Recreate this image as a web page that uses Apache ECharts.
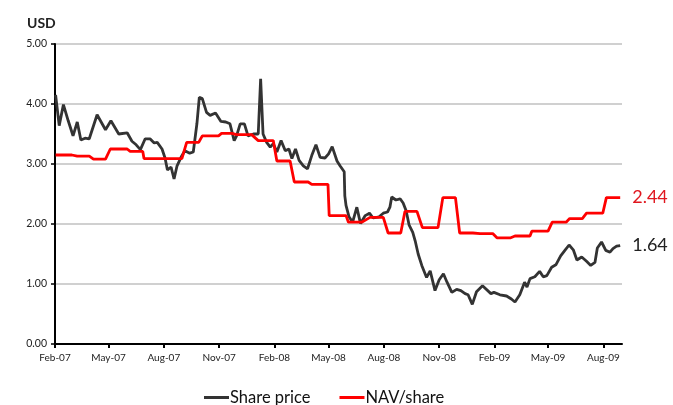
<!DOCTYPE html>
<html lang="en">
<head>
    <meta charset="UTF-8">
    <title>Share price vs NAV/share</title>
    <script src="https://cdn.jsdelivr.net/npm/echarts@6.0.0/dist/echarts.min.js"></script>
    <style>
        body { margin: 0; background: #fff; }
    </style>
</head>
<body>
    <div id="chart" style="width: 673px; height: 405px;"></div>

    <script>
        // Share price (weekly-ish closes)
        var priceDates = [
            '2007-02-02', '2007-02-08', '2007-02-15', '2007-02-23', '2007-03-03', '2007-03-10', '2007-03-16', '2007-03-23',
            '2007-03-30', '2007-04-12', '2007-04-26', '2007-05-05', '2007-05-18', '2007-06-01', '2007-06-09', '2007-06-16',
            '2007-06-23', '2007-07-01', '2007-07-09', '2007-07-16', '2007-07-21', '2007-07-29', '2007-08-03', '2007-08-07',
            '2007-08-13', '2007-08-18', '2007-08-23', '2007-08-30', '2007-09-05', '2007-09-13', '2007-09-19', '2007-09-25',
            '2007-09-29', '2007-10-04', '2007-10-11', '2007-10-17', '2007-10-26', '2007-11-04', '2007-11-12', '2007-11-19',
            '2007-11-26', '2007-11-30', '2007-12-06', '2007-12-13', '2007-12-19', '2007-12-28', '2008-01-05', '2008-01-09',
            '2008-01-13', '2008-01-19', '2008-01-25', '2008-01-30', '2008-02-05', '2008-02-12', '2008-02-19', '2008-02-25',
            '2008-03-01', '2008-03-07', '2008-03-13', '2008-03-20', '2008-03-27', '2008-04-03', '2008-04-10', '2008-04-17',
            '2008-04-25', '2008-05-01', '2008-05-07', '2008-05-15', '2008-05-20', '2008-05-27', '2008-05-28', '2008-05-30',
            '2008-06-04', '2008-06-10', '2008-06-17', '2008-06-23', '2008-07-01', '2008-07-08', '2008-07-14', '2008-07-24',
            '2008-07-31', '2008-08-07', '2008-08-11', '2008-08-14', '2008-08-21', '2008-08-28', '2008-09-02', '2008-09-07',
            '2008-09-12', '2008-09-18', '2008-09-22', '2008-09-27', '2008-10-03', '2008-10-11', '2008-10-17', '2008-10-25',
            '2008-11-01', '2008-11-08', '2008-11-14', '2008-11-22', '2008-11-30', '2008-12-07', '2008-12-14', '2008-12-19',
            '2008-12-26', '2009-01-02', '2009-01-12', '2009-01-26', '2009-01-31', '2009-02-10', '2009-02-21', '2009-03-01',
            '2009-03-07', '2009-03-15', '2009-03-23', '2009-03-27', '2009-04-01', '2009-04-09', '2009-04-17', '2009-04-23',
            '2009-04-29', '2009-05-07', '2009-05-14', '2009-05-22', '2009-05-29', '2009-06-05', '2009-06-12', '2009-06-18',
            '2009-06-26', '2009-07-04', '2009-07-11', '2009-07-18', '2009-07-22', '2009-07-29', '2009-08-05', '2009-08-12',
            '2009-08-17', '2009-08-23', '2009-08-29'
        ];
        var priceValues = [
            4.15, 3.64, 3.99, 3.72, 3.47, 3.70, 3.40, 3.43,
            3.42, 3.82, 3.57, 3.72, 3.50, 3.52, 3.38, 3.32,
            3.24, 3.42, 3.42, 3.35, 3.36, 3.25, 3.10, 2.90,
            2.95, 2.75, 2.97, 3.12, 3.22, 3.18, 3.20, 3.67,
            4.11, 4.09, 3.86, 3.81, 3.85, 3.71, 3.70, 3.67,
            3.39, 3.47, 3.67, 3.67, 3.47, 3.50, 3.50, 4.42,
            3.50, 3.36, 3.28, 3.34, 3.20, 3.39, 3.22, 3.25,
            3.09, 3.25, 3.06, 2.97, 2.92, 3.14, 3.32, 3.11,
            3.10, 3.17, 3.29, 3.05, 2.97, 2.87, 2.47, 2.31,
            2.12, 2.03, 2.28, 2.01, 2.14, 2.18, 2.10, 2.12,
            2.18, 2.20, 2.28, 2.45, 2.40, 2.42, 2.35, 2.22,
            1.98, 1.86, 1.72, 1.50, 1.31, 1.11, 1.22, 0.89,
            1.07, 1.17, 1.03, 0.86, 0.91, 0.89, 0.84, 0.82,
            0.66, 0.87, 0.97, 0.84, 0.86, 0.82, 0.80, 0.75,
            0.70, 0.82, 1.03, 0.95, 1.09, 1.12, 1.21, 1.12,
            1.14, 1.28, 1.32, 1.47, 1.56, 1.65, 1.57, 1.40,
            1.45, 1.38, 1.31, 1.36, 1.60, 1.70, 1.56, 1.53,
            1.59, 1.63, 1.64
        ];

        // NAV per share (monthly steps)
        var navDates = [
            '2007-02-02', '2007-03-01', '2007-03-10', '2007-03-30', '2007-04-06', '2007-04-26', '2007-05-04', '2007-06-01',
            '2007-06-06', '2007-06-27', '2007-06-29', '2007-08-31', '2007-09-08', '2007-09-28', '2007-10-04', '2007-10-31',
            '2007-11-05', '2007-11-22', '2007-11-30', '2007-12-25', '2008-01-05', '2008-01-30', '2008-02-05', '2008-02-27',
            '2008-03-05', '2008-03-28', '2008-04-03', '2008-04-30', '2008-05-02', '2008-05-30', '2008-06-03', '2008-06-25',
            '2008-07-09', '2008-07-31', '2008-08-08', '2008-08-29', '2008-09-05', '2008-09-25', '2008-10-04', '2008-10-30',
            '2008-11-07', '2008-11-28', '2008-12-05', '2008-12-27', '2009-01-08', '2009-01-29', '2009-02-05', '2009-02-28',
            '2009-03-07', '2009-04-01', '2009-04-04', '2009-05-01', '2009-05-08', '2009-05-31', '2009-06-06', '2009-06-27',
            '2009-07-04', '2009-07-31', '2009-08-06', '2009-08-29'
        ];
        var navValues = [
            3.15, 3.15, 3.13, 3.13, 3.08, 3.08, 3.25, 3.25,
            3.21, 3.21, 3.09, 3.09, 3.36, 3.36, 3.47, 3.47,
            3.51, 3.51, 3.49, 3.49, 3.39, 3.39, 3.05, 3.05,
            2.70, 2.70, 2.66, 2.66, 2.14, 2.14, 2.03, 2.03,
            2.11, 2.11, 1.85, 1.85, 2.21, 2.21, 1.94, 1.94,
            2.44, 2.44, 1.85, 1.85, 1.84, 1.84, 1.77, 1.77,
            1.80, 1.80, 1.88, 1.88, 2.03, 2.03, 2.09, 2.09,
            2.18, 2.18, 2.44, 2.44
        ];

        // quarterly axis labels
        var tickMonths = [
            '2007-02', '2007-05', '2007-08', '2007-11', '2008-02', '2008-05',
            '2008-08', '2008-11', '2009-02', '2009-05', '2009-08'
        ];
        var monthNames = ['Jan', 'Feb', 'Mar', 'Apr', 'May', 'Jun', 'Jul', 'Aug', 'Sep', 'Oct', 'Nov', 'Dec'];

        function toTime(s) {
            var p = s.split('-');
            return Date.UTC(+p[0], +p[1] - 1, p[2] ? +p[2] : 1);
        }

        var tickValues = tickMonths.map(toTime);
        var priceData = priceDates.map(function (d, i) { return [toTime(d), priceValues[i]]; });
        var navData = navDates.map(function (d, i) { return [toTime(d), navValues[i]]; });

        var font = 'Lato, "Open Sans", sans-serif';
        var chart = echarts.init(document.getElementById('chart'));

        var option = {
            animation: false,
            textStyle: { fontFamily: font },
            title: {
                text: 'USD',
                left: 22,
                top: 11,
                textStyle: { fontSize: 14, fontWeight: 'bold', color: '#222', fontFamily: font }
            },
            legend: {
                bottom: -6,
                left: 199,
                itemGap: 29,
                itemWidth: 25,
                itemHeight: 3,
                icon: 'rect',
                textStyle: { fontSize: 16.5, color: '#111', fontFamily: font, padding: [0, 0, 0, -4] },
                data: ['Share price', 'NAV/share']
            },
            grid: { left: 55, right: 51, top: 44, bottom: 61 },
            xAxis: {
                // dates held as UTC timestamps on a numeric axis
                type: 'value',
                min: toTime('2007-02-01'),
                max: toTime('2009-09-01'),
                axisLine: { lineStyle: { color: '#000', width: 2 } },
                axisTick: { show: true, length: 4, customValues: tickValues, lineStyle: { color: '#000', width: 2 } },
                axisLabel: {
                    customValues: tickValues,
                    margin: 9,
                    fontSize: 10,
                    color: '#222',
                    formatter: function (v) {
                        var d = new Date(v);
                        return monthNames[d.getUTCMonth()] + '-' + String(d.getUTCFullYear()).slice(2);
                    }
                },
                splitLine: { show: false }
            },
            yAxis: {
                type: 'value',
                min: 0,
                max: 5,
                interval: 1,
                axisLine: { show: true, lineStyle: { color: '#000', width: 2 } },
                axisTick: { show: true, length: 4, lineStyle: { color: '#000', width: 1.5 } },
                axisLabel: {
                    margin: 8,
                    fontSize: 10.5,
                    color: '#222',
                    formatter: function (v) { return v.toFixed(2); }
                },
                splitLine: { lineStyle: { color: '#c0c0c0', width: 1.5 } }
            },
            series: [
                {
                    name: 'Share price',
                    type: 'line',
                    data: priceData,
                    showSymbol: false,
                    color: '#333333',
                    lineStyle: { width: 2.8, color: '#333333' },
                    endLabel: {
                        show: true,
                        distance: 12,
                        fontSize: 18,
                        color: '#222',
                        fontFamily: font,
                        formatter: function (p) { return p.value[1].toFixed(2); }
                    }
                },
                {
                    name: 'NAV/share',
                    type: 'line',
                    data: navData,
                    showSymbol: false,
                    color: '#ff0000',
                    lineStyle: { width: 2.8, color: '#ff0000' },
                    endLabel: {
                        show: true,
                        distance: 12,
                        fontSize: 18,
                        color: '#e0161e',
                        fontFamily: font,
                        formatter: function (p) { return p.value[1].toFixed(2); }
                    }
                }
            ]
        };

        chart.setOption(option);
    </script>
</body>
</html>
